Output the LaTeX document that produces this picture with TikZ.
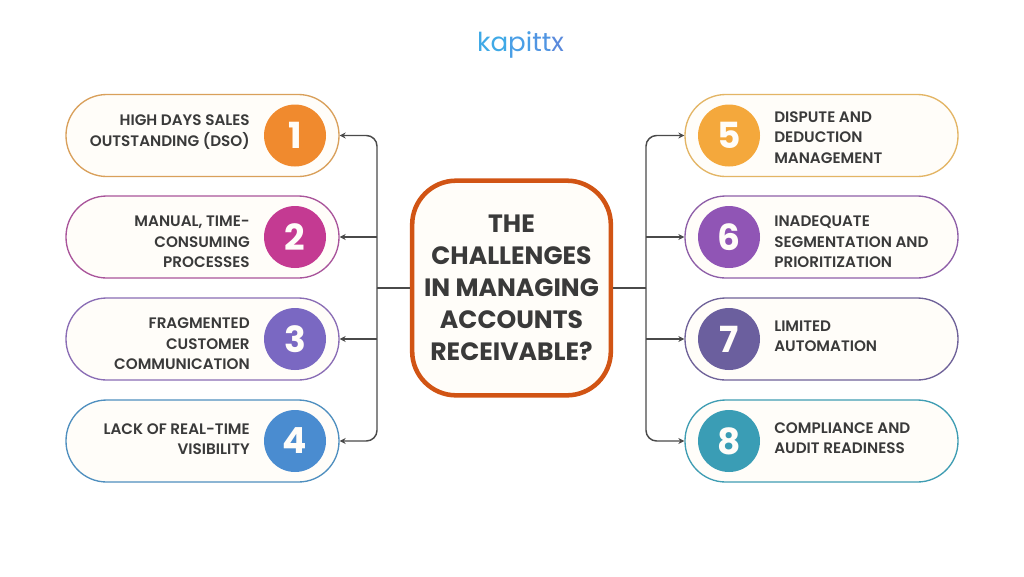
\documentclass[tikz,border=0pt]{standalone}
\usepackage{fontspec}
\setmainfont{Poppins}
\newfontfamily\labelfont{Poppins SemiBold}
\usetikzlibrary{arrows.meta}
\definecolor{ink}{HTML}{3A3A3A}
\definecolor{wire}{HTML}{4A4A4A}
\definecolor{paper}{HTML}{FFFDF9}
\definecolor{lga}{HTML}{3FA9E6}
\definecolor{lgb}{HTML}{4A9FE6}
\definecolor{lgc}{HTML}{5095E2}
\definecolor{lgd}{HTML}{5A8ADC}
\tikzset{
 x=0.75pt,y=-0.75pt,
 pill/.style={draw=#1,fill=paper,line width=1pt,rounded corners=30.5pt,minimum width=204.75pt,minimum height=61.5pt,inner sep=0pt},
 badge/.style={circle,fill=#1,minimum size=46.5pt,inner sep=0pt,text=paper,font=\bfseries\fontsize{27}{27}\selectfont},
 lefttext/.style={align=right,anchor=east,text=ink,font=\labelfont\fontsize{11.4}{15.3}\selectfont,inner sep=0pt},
 righttext/.style={align=left,anchor=west,text=ink,font=\labelfont\fontsize{11.4}{15.3}\selectfont,inner sep=0pt},
 wirearrow/.style={draw=wire,line width=1.1pt,rounded corners=8pt,-{Stealth[length=4.5pt,width=4.5pt]}},
 wireline/.style={draw=wire,line width=1.1pt},
}
\begin{document}
\begin{tikzpicture}
\useasboundingbox (0,0) rectangle (1024,576);
\fill[white] (0,0) rectangle (1024,576);
\node[font=\fontsize{19.6}{19.6}\selectfont,inner sep=0pt] (logo) at (520.5,44.5) {\addfontfeature{LetterSpace=5}\textcolor{lga}{k}\textcolor{lga}{a}\textcolor{lgb}{p}\textcolor{lgb}{i}\textcolor{lgc}{t}\textcolor{lgc}{t}\textcolor{lgd}{x}};
\node[draw={rgb,255:red,209;green,84;blue,20},line width=3.4pt,fill=paper,rounded corners=33pt,minimum width=149pt,minimum height=161pt,inner sep=0pt,align=center,text=ink,font=\bfseries\fontsize{18.8}{24.1}\selectfont] (hub) at (511.5,288) {THE\\CHALLENGES\\IN MANAGING\\ACCOUNTS\\RECEIVABLE?};
\foreach \n/\y/\ty/\c/\t in {
 1/135.5/132/D9A05B/{HIGH DAYS SALES\\OUTSTANDING (DSO)},
 2/237/242/A9559B/{MANUAL, TIME-\\CONSUMING\\PROCESSES},
 3/339/344/8A6DB5/{FRAGMENTED\\CUSTOMER\\COMMUNICATION},
 4/441/439/4F8FBF/{LACK OF REAL-TIME\\VISIBILITY}}{
 \definecolor{pc}{HTML}{\c}
 \node[pill=pc] (p\n) at (202.5,\y) {};
 \node[lefttext] (t\n) at (250,\ty) {\t};
}
\foreach \n/\y/\ty/\c/\t in {
 5/135.5/137.5/E3B565/{DISPUTE AND\\DEDUCTION\\MANAGEMENT},
 6/237/242/8E5FA8/{INADEQUATE\\SEGMENTATION AND\\PRIORITIZATION},
 7/339/336/6F6299/{LIMITED\\AUTOMATION},
 8/441/438/3F9DB3/{COMPLIANCE AND\\AUDIT READINESS}}{
 \definecolor{pc}{HTML}{\c}
 \node[pill=pc] (p\n) at (821.5,\y) {};
 \node[righttext] (t\n) at (774,\ty) {\t};
}
\foreach \n/\x/\y/\c in {1/295/135.5/F08A2E,2/295/237/C43A92,3/295/339/7A68C2,4/295/441/4A8CD0,5/729/135.5/F4A83C,6/729/237/9055B5,7/729/339/6B5F9E,8/729/441/3A9DB5}{
 \definecolor{bc}{HTML}{\c}
 \node[badge=bc] (b\n) at (\x,\y) {\n};
}
\coordinate (jl) at (377,288);
\coordinate (jr) at (646,288);
\draw[wireline] (hub.west) -- (jl);
\draw[wireline] (hub.east) -- (jr);
\draw[wirearrow] (jl) |- (p1.east);
\draw[wirearrow] (jl) |- (p4.east);
\draw[wirearrow] (jr) |- (p5.west);
\draw[wirearrow] (jr) |- (p8.west);
\draw[wirearrow] (377,237) -- (p2.east);
\draw[wirearrow] (377,339) -- (p3.east);
\draw[wirearrow] (646,237) -- (p6.west);
\draw[wirearrow] (646,339) -- (p7.west);
\end{tikzpicture}
\end{document}
